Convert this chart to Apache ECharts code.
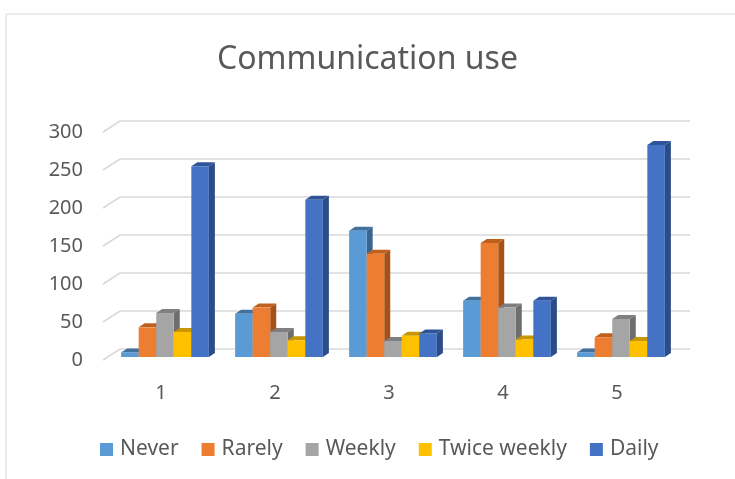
<!DOCTYPE html>
<html>
<head>
<meta charset="utf-8">
<script src="https://cdn.jsdelivr.net/npm/echarts@6/dist/echarts.min.js"></script>
<style>
  html, body { margin: 0; padding: 0; background: #fff; }
  #main { width: 735px; height: 479px; }
</style>
</head>
<body>
<div id="main"></div>
<script>
  // data
  let categories = ['1', '2', '3', '4', '5']
  let seriesNames = ['Never', 'Rarely', 'Weekly', 'Twice weekly', 'Daily']
  let never = [6, 57, 166, 74, 6]
  let rarely = [39, 65, 136, 150, 26]
  let weekly = [58, 33, 21, 65, 50]
  let twiceWeekly = [33, 22, 28, 23, 21]
  let daily = [251, 207, 31, 74, 279]
  let yTicks = [0, 50, 100, 150, 200, 250, 300]

  let allValues = [never, rarely, weekly, twiceWeekly, daily]

  // front / top / side shades, Office palette
  let shades = [
    ['#5B9BD5', '#41719C', '#3A6590'],
    ['#ED7D31', '#C0601F', '#A4511A'],
    ['#A5A5A5', '#7F7F7F', '#6E6E6E'],
    ['#FFC000', '#C79600', '#B08500'],
    ['#4472C4', '#2F5597', '#2B4C86']
  ]

  let dom = document.getElementById('main')
  let myChart = echarts.init(dom)

  const DX = 6, DY = 4

  function barRender (idx) {
    return function (params, api) {
      let c = api.value(0)
      let v = api.value(1)
      let top = api.coord([c, v])
      let base = api.coord([c, 0])
      let band = api.size([1, 0])[0]
      let bw = band * 0.77 / 5
      let x0 = top[0] - 2.5 * bw + idx * bw
      let x1 = x0 + bw
      let yt = top[1], yb = base[1]
      let col = shades[idx]
      return {
        type: 'group',
        children: [
          {
            type: 'polygon',
            shape: { points: [[x1, yt], [x1 + DX, yt - DY], [x1 + DX, yb - DY], [x1, yb]] },
            style: { fill: col[2] }
          },
          {
            type: 'polygon',
            shape: { points: [[x0, yt], [x0 + DX, yt - DY], [x1 + DX, yt - DY], [x1, yt]] },
            style: { fill: col[1] }
          },
          {
            type: 'rect',
            shape: { x: x0, y: yt, width: bw, height: yb - yt },
            style: { fill: col[0] }
          }
        ]
      }
    }
  }

  function gridRender (params, api) {
    let cs = params.coordSys
    let y = api.coord([0, api.value(1)])[1]
    return {
      type: 'polyline',
      shape: { points: [[cs.x - 5, y + 3], [cs.x + 12, y - 8], [cs.x + cs.width + 12, y - 8]] },
      style: { stroke: '#D9D9D9', lineWidth: 1.5, fill: null }
    }
  }

  let series = [{
    name: 'gridlines',
    type: 'custom',
    silent: true,
    z: 1,
    renderItem: gridRender,
    data: yTicks.map(t => [0, t])
  }]
  seriesNames.forEach((name, i) => {
    series.push({
      name: name,
      type: 'custom',
      z: 2,
      renderItem: barRender(i),
      itemStyle: { color: shades[i][0] },
      data: allValues[i].map((v, j) => [j, v])
    })
  })

  let option = {
    animation: false,
    textStyle: { fontFamily: 'Noto Sans' },
    graphic: [{
      type: 'rect',
      shape: { x: 6, y: 14, width: 760, height: 500 },
      style: { fill: null, stroke: '#D9D9D9', lineWidth: 1 },
      silent: true
    }],
    title: {
      text: 'Communication use',
      left: 'center',
      top: 39,
      textStyle: { color: '#595959', fontSize: 32, fontWeight: 'normal', fontFamily: 'Noto Sans' }
    },
    legend: {
      data: seriesNames,
      left: 95,
      top: 434,
      itemWidth: 13,
      itemHeight: 13,
      itemGap: 23,
      icon: 'rect',
      textStyle: { color: '#595959', fontSize: 21, fontFamily: 'Noto Sans', padding: [0, 0, 0, 2] }
    },
    grid: {
      left: 108,
      right: 57,
      top: 129,
      bottom: 122
    },
    xAxis: {
      type: 'category',
      data: categories,
      axisLine: { show: false },
      axisTick: { show: false },
      axisLabel: { color: '#595959', fontSize: 20, margin: 26, padding: [0, 8, 0, 0] }
    },
    yAxis: {
      type: 'value',
      min: 0,
      max: 300,
      interval: 50,
      splitLine: { show: false },
      axisLine: { show: false },
      axisTick: { show: false },
      axisLabel: {
        margin: 25,
        formatter: '{a|{value}}',
        rich: { a: { color: '#595959', fontSize: 20, fontFamily: 'Noto Sans', padding: [6, 0, 0, 0] } }
      }
    },
    series: series
  }

  myChart.setOption(option, true)
</script>
</body>
</html>
